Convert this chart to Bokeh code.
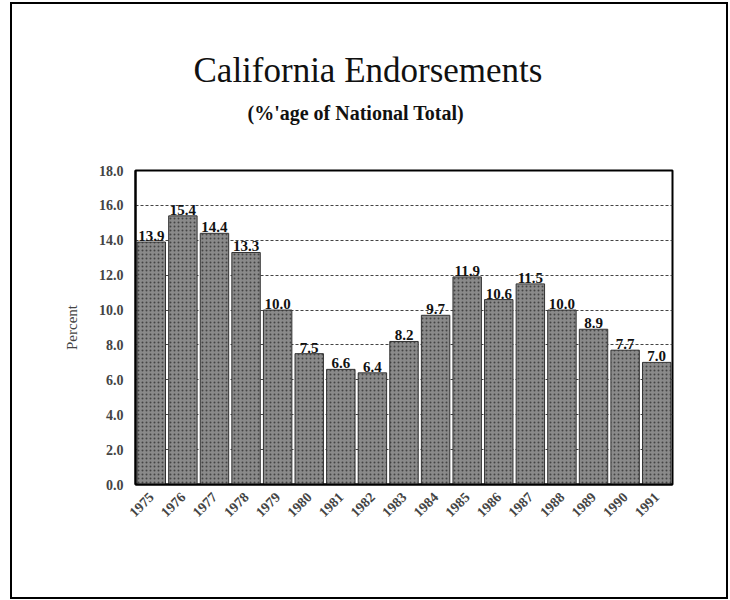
import math
from bokeh.plotting import figure
from bokeh.layouts import column
from bokeh.models import ColumnDataSource, Title, FixedTicker, LabelSet, NumeralTickFormatter
from bokeh.embed import file_html
from bokeh.resources import INLINE
from bokeh.core.properties import value

years = ["1975", "1976", "1977", "1978", "1979", "1980", "1981", "1982", "1983",
         "1984", "1985", "1986", "1987", "1988", "1989", "1990", "1991"]
percent = [13.9, 15.4, 14.4, 13.3, 10.0, 7.5, 6.6, 6.4, 8.2,
           9.7, 11.9, 10.6, 11.5, 10.0, 8.9, 7.7, 7.0]
y_ticks = [0, 2, 4, 6, 8, 10, 12, 14, 16, 18]

SERIF = "Liberation Serif"

src = ColumnDataSource(dict(year=years, pct=percent,
                            lbl=["%.1f" % v for v in percent]))

# figure sits inside a bordered box whose content starts at canvas (12, 4)
p = figure(width=714, height=593, x_range=years, y_range=(0, 18),
           output_backend="svg", toolbar_location=None,
           min_border_left=123, min_border_right=54,
           min_border_top=166, min_border_bottom=113)

p.background_fill_color = "white"
p.border_fill_color = "white"
p.outline_line_color = "black"
p.outline_line_width = 2

p.vbar(x="year", top="pct", width=0.9, source=src,
       fill_color="#8a8a8a", line_color="#333333", line_width=1,
       hatch_pattern="dot", hatch_color="#444444", hatch_scale=4, hatch_weight=1.2)

labels = LabelSet(x="year", y="pct", text="lbl", source=src,
                  text_align="center", text_baseline="bottom", y_offset=1,
                  text_font=value(SERIF), text_font_style="bold",
                  text_font_size="15px", text_color="#111111")
p.add_layout(labels)

p.xgrid.grid_line_color = None
p.ygrid.grid_line_color = "#444444"
p.ygrid.grid_line_dash = "3 2"
p.ygrid.grid_line_width = 1
p.ygrid.level = "underlay"

p.yaxis.ticker = FixedTicker(ticks=y_ticks)
p.yaxis.formatter = NumeralTickFormatter(format="0.0")
p.yaxis.major_tick_line_color = None
p.yaxis.minor_tick_line_color = None
p.yaxis.axis_line_color = "black"
p.yaxis.axis_line_width = 2
p.yaxis.major_label_text_font = SERIF
p.yaxis.major_label_text_font_style = "bold"
p.yaxis.major_label_text_font_size = "14px"
p.yaxis.major_label_standoff = 6
p.yaxis.axis_label = "Percent"
p.yaxis.axis_label_text_font = SERIF
p.yaxis.axis_label_text_font_style = "normal"
p.yaxis.axis_label_text_font_size = "15px"
p.yaxis.axis_label_standoff = 16

p.xaxis.major_tick_line_color = None
p.xaxis.axis_line_color = "black"
p.xaxis.axis_line_width = 2
p.xaxis.major_label_orientation = math.pi / 4
p.xaxis.major_label_text_font = SERIF
p.xaxis.major_label_text_font_style = "bold"
p.xaxis.major_label_text_font_size = "14px"
p.xaxis.major_label_standoff = 4
p.x_range.range_padding = 0

# title panels: first added sits closest to the frame
p.add_layout(Title(text=" ", text_font_size="26px"), "above")
p.add_layout(Title(text="(%'age of National Total)", align="left", offset=112,
                   text_font=SERIF, text_font_style="bold",
                   text_font_size="20px", text_line_height=0.8,
                   text_color="#111111"), "above")
p.add_layout(Title(text="California Endorsements", align="left", offset=58,
                   text_font=SERIF, text_font_style="normal",
                   text_font_size="35px", text_line_height=0.8,
                   text_color="#111111"), "above")

layout = column(p, margin=(2, 0, 0, 10),
                styles={"border": "2px solid black", "background-color": "white"})

open("out.html", "w").write(file_html(layout, INLINE))
